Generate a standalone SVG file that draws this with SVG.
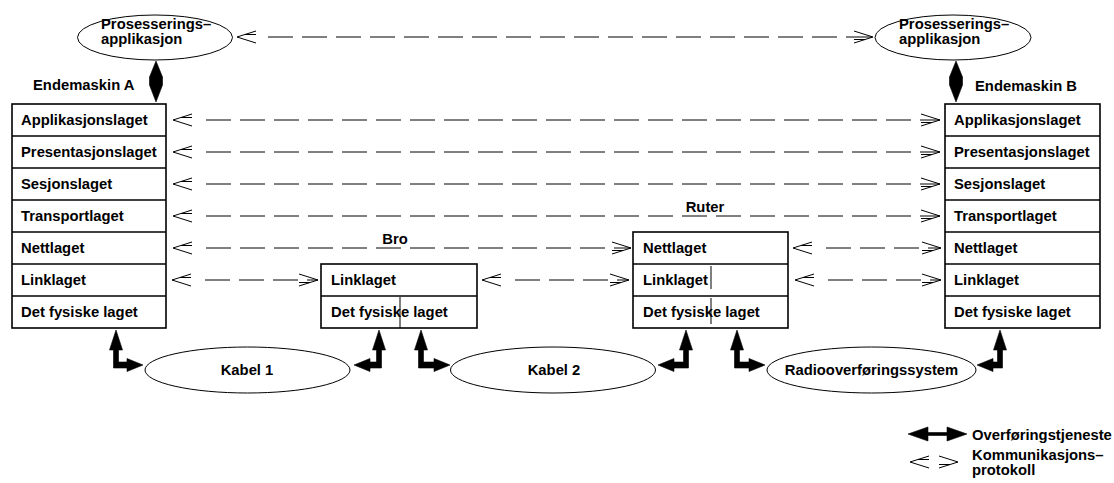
<svg xmlns="http://www.w3.org/2000/svg" xmlns:xlink="http://www.w3.org/1999/xlink" width="1114" height="483" viewBox="0 0 1114 483">
  <style>
    text { font-family: "Liberation Sans", Arial, Helvetica, sans-serif; font-weight: bold; font-size: 14.8px; fill: #000; }
    .mid { text-anchor: middle; }
    .box { fill: #fff; stroke: #000; stroke-width: 1.6; }
    .sep { stroke: #000; stroke-width: 1.6; }
    .ell { fill: #fff; stroke: #000; stroke-width: 1; }
    .proto { stroke: #000; stroke-width: 1; stroke-dasharray: 25 9; fill: none; }
    .head { stroke: #000; stroke-width: 1; fill: none; }
    .thick { fill: #000; stroke: #000; stroke-width: 0.6; stroke-linejoin: miter; }
    .mark { stroke: #000; stroke-width: 1; }
  </style>
  <defs>
    <!-- open stick arrowhead, tip at origin, pointing left -->
    <path id="hl" class="head" d="M19,-6 L0,0 L19,6 M8,-2.5 L19,-2.5"/>
    <!-- same head pointing right -->
    <path id="hr" class="head" d="M-19,-6 L0,0 L-19,6 M-8,2.5 L-19,2.5"/>
  </defs>

  <!-- application processes -->
  <g id="app-a">
    <ellipse class="ell" cx="155" cy="37.5" rx="77.5" ry="22.5"/>
    <text x="101" y="29">Prosesserings–</text>
    <text x="101" y="44">applikasjon</text>
  </g>
  <g id="app-b">
    <ellipse class="ell" cx="953" cy="37.5" rx="78" ry="22.5"/>
    <text x="899" y="29">Prosesserings–</text>
    <text x="899" y="44">applikasjon</text>
  </g>

  <!-- end system A: seven-layer stack -->
  <g id="host-a">
    <text x="33" y="90">Endemaskin A</text>
    <rect class="box" x="12" y="104" width="154" height="224"/>
    <line class="sep" x1="12" y1="136" x2="166" y2="136"/>
    <line class="sep" x1="12" y1="168" x2="166" y2="168"/>
    <line class="sep" x1="12" y1="200" x2="166" y2="200"/>
    <line class="sep" x1="12" y1="232" x2="166" y2="232"/>
    <line class="sep" x1="12" y1="264" x2="166" y2="264"/>
    <line class="sep" x1="12" y1="296" x2="166" y2="296"/>
    <text x="21" y="125">Applikasjonslaget</text>
    <text x="21" y="157">Presentasjonslaget</text>
    <text x="21" y="189">Sesjonslaget</text>
    <text x="21" y="221">Transportlaget</text>
    <text x="21" y="253">Nettlaget</text>
    <text x="21" y="285">Linklaget</text>
    <text x="21" y="317">Det fysiske laget</text>
  </g>

  <!-- end system B: seven-layer stack -->
  <g id="host-b">
    <text x="975" y="91">Endemaskin B</text>
    <rect class="box" x="945" y="104" width="155" height="224"/>
    <line class="sep" x1="945" y1="136" x2="1100" y2="136"/>
    <line class="sep" x1="945" y1="168" x2="1100" y2="168"/>
    <line class="sep" x1="945" y1="200" x2="1100" y2="200"/>
    <line class="sep" x1="945" y1="232" x2="1100" y2="232"/>
    <line class="sep" x1="945" y1="264" x2="1100" y2="264"/>
    <line class="sep" x1="945" y1="296" x2="1100" y2="296"/>
    <text x="954" y="125">Applikasjonslaget</text>
    <text x="954" y="157">Presentasjonslaget</text>
    <text x="954" y="189">Sesjonslaget</text>
    <text x="954" y="221">Transportlaget</text>
    <text x="954" y="253">Nettlaget</text>
    <text x="954" y="285">Linklaget</text>
    <text x="954" y="317">Det fysiske laget</text>
  </g>

  <!-- bridge: two layers -->
  <g id="bridge">
    <text class="mid" x="395" y="244">Bro</text>
    <rect class="box" x="321" y="264" width="156" height="64"/>
    <line class="sep" x1="321" y1="296" x2="477" y2="296"/>
    <text x="331" y="285">Linklaget</text>
    <text x="331" y="317">Det fysiske laget</text>
    <line class="mark" x1="400" y1="297" x2="400" y2="328"/>
  </g>

  <!-- router: three layers -->
  <g id="router">
    <text class="mid" x="705" y="211.5">Ruter</text>
    <rect class="box" x="633" y="232" width="155" height="96"/>
    <line class="sep" x1="633" y1="264" x2="788" y2="264"/>
    <line class="sep" x1="633" y1="296" x2="788" y2="296"/>
    <text x="643" y="253">Nettlaget</text>
    <text x="643" y="285">Linklaget</text>
    <text x="643" y="317">Det fysiske laget</text>
    <line class="mark" x1="711" y1="266" x2="711" y2="289"/>
    <line class="mark" x1="711" y1="298" x2="711" y2="324"/>
  </g>

  <!-- physical media -->
  <g id="cable-1">
    <ellipse class="ell" cx="247.5" cy="370" rx="102.5" ry="23"/>
    <text class="mid" x="247" y="375">Kabel 1</text>
  </g>
  <g id="cable-2">
    <ellipse class="ell" cx="553" cy="370" rx="102.5" ry="23"/>
    <text class="mid" x="554" y="375">Kabel 2</text>
  </g>
  <g id="radio">
    <ellipse class="ell" cx="871.5" cy="370" rx="104.5" ry="23"/>
    <text class="mid" x="871.5" y="375">Radiooverføringssystem</text>
  </g>

  <!-- connectors -->
  <g id="connectors">
    <!-- peer protocols (dashed, open heads) -->
    <line class="proto" x1="268" y1="37" x2="873" y2="37"/>
    <use xlink:href="#hl" x="237" y="37"/>
    <use xlink:href="#hr" x="873" y="37"/>

    <line class="proto" x1="206" y1="120" x2="940" y2="120"/>
    <use xlink:href="#hl" x="173" y="120"/>
    <use xlink:href="#hr" x="940" y="120"/>

    <line class="proto" x1="206" y1="152" x2="940" y2="152"/>
    <use xlink:href="#hl" x="173" y="152"/>
    <use xlink:href="#hr" x="940" y="152"/>

    <line class="proto" x1="206" y1="184" x2="940" y2="184"/>
    <use xlink:href="#hl" x="173" y="184"/>
    <use xlink:href="#hr" x="940" y="184"/>

    <line class="proto" x1="206" y1="216" x2="940" y2="216"/>
    <use xlink:href="#hl" x="173" y="216"/>
    <use xlink:href="#hr" x="940" y="216"/>

    <line class="proto" x1="206" y1="248" x2="631" y2="248"/>
    <use xlink:href="#hl" x="173" y="248"/>
    <use xlink:href="#hr" x="631" y="248"/>

    <line class="proto" x1="205" y1="280" x2="318" y2="280"/>
    <use xlink:href="#hl" x="172" y="280"/>
    <use xlink:href="#hr" x="318" y="280"/>

    <line class="proto" x1="515" y1="280" x2="629" y2="280"/>
    <use xlink:href="#hl" x="482" y="280"/>
    <use xlink:href="#hr" x="629" y="280"/>

    <line class="proto" x1="826" y1="248" x2="941" y2="248"/>
    <use xlink:href="#hl" x="793" y="248"/>
    <use xlink:href="#hr" x="941" y="248"/>

    <line class="proto" x1="828" y1="280" x2="941" y2="280"/>
    <use xlink:href="#hl" x="795" y="280"/>
    <use xlink:href="#hr" x="941" y="280"/>

    <!-- transfer services (thick, filled heads) -->
    <path class="thick" d="M156,61 L162.5,77 L162.5,85 L156,102 L149.5,85 L149.5,77 Z"/>
    <path class="thick" d="M956,61 L962.5,77 L962.5,85 L956,102 L949.5,85 L949.5,77 Z"/>

    <path class="thick" d="M116,330 L122.5,350 L118.5,350 L118.5,362 L127,362 L127,358.5 L143,365 L127,371.5 L127,368 L113.5,368 L113.5,350 L109.5,350 Z"/>
    <path class="thick" d="M379,330 L385.5,350 L381.5,350 L381.5,368 L370,368 L370,371.5 L354,365 L370,358.5 L370,362 L376.5,362 L376.5,350 L372.5,350 Z"/>
    <path class="thick" d="M421,330 L427.5,350 L423.5,350 L423.5,362 L434,362 L434,358.5 L450,365 L434,371.5 L434,368 L418.5,368 L418.5,350 L414.5,350 Z"/>
    <path class="thick" d="M686,330 L692.5,350 L688.5,350 L688.5,368 L674,368 L674,371.5 L658,365 L674,358.5 L674,362 L683.5,362 L683.5,350 L679.5,350 Z"/>
    <path class="thick" d="M737,330 L743.5,350 L739.5,350 L739.5,362 L749,362 L749,358.5 L765,365 L749,371.5 L749,368 L734.5,368 L734.5,350 L730.5,350 Z"/>
    <path class="thick" d="M1000,330 L1006.5,350 L1002.5,350 L1002.5,368 L993,368 L993,371.5 L977,365 L993,358.5 L993,362 L997.5,362 L997.5,350 L993.5,350 Z"/>
  </g>

  <!-- legend -->
  <g id="legend">
    <path class="thick" d="M908,434 L928,427 L928,432.5 L947,432.5 L947,427 L967,434 L947,441 L947,435.5 L928,435.5 L928,441 Z"/>
    <text x="972" y="439.5">Overføringstjeneste</text>
    <use xlink:href="#hl" x="910" y="462"/>
    <use xlink:href="#hr" x="958" y="462"/>
    <text x="972" y="460">Kommunikasjons–</text>
    <text x="972" y="475">protokoll</text>
  </g>
</svg>
